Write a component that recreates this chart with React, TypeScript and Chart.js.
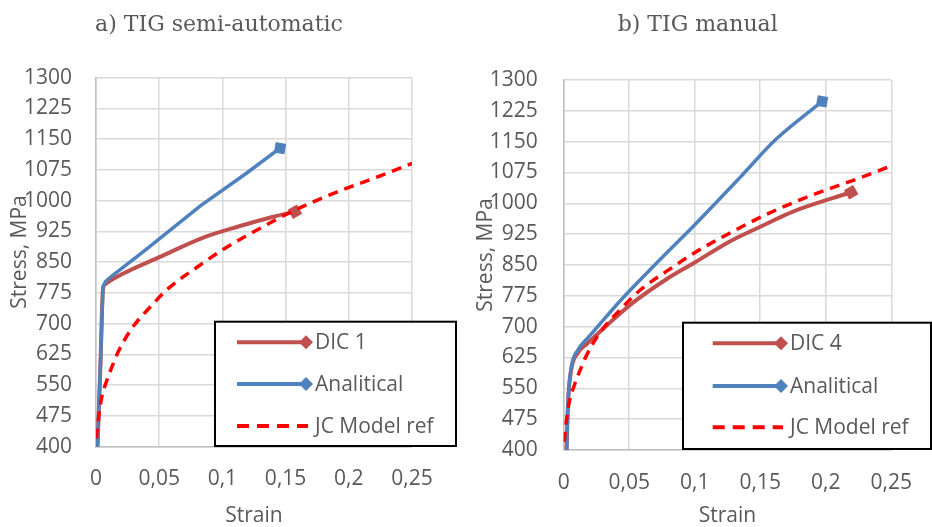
import React, { useEffect, useRef } from 'react';
import { Chart, registerables } from 'chart.js';

Chart.register(...registerables);

// ---------- tick labels ----------
const xTickLabels = ['0', '0,05', '0,1', '0,15', '0,2', '0,25'];
const yTickLabels = ['400', '475', '550', '625', '700', '775', '850', '925', '1000', '1075', '1150', '1225', '1300'];

// ---------- a) TIG semi-automatic ----------
const dic1Strain = [0.0012, 0.0035, 0.0055, 0.0071, 0.02, 0.0506, 0.0849, 0.1126, 0.1403, 0.1574];
const dic1Stress = [400, 600, 783, 796, 820, 863, 910, 937, 961, 973];

const anaAStrain = [0.0012, 0.0035, 0.0055, 0.0075, 0.012, 0.04, 0.0823, 0.119, 0.1456];
const anaAStress = [400, 600, 790, 803, 815, 882, 987, 1067, 1128];

// ---------- b) TIG manual ----------
const dic4Strain = [0.0022, 0.0034, 0.0059, 0.0108, 0.018, 0.0318, 0.0515, 0.0787, 0.1, 0.1254, 0.15, 0.175, 0.2194];
const dic4Stress = [400, 520, 598, 636, 659, 700, 755, 816, 856, 905, 943, 980, 1027];

const anaBStrain = [0.0022, 0.0034, 0.0059, 0.0108, 0.0182, 0.0232, 0.0437, 0.0713, 0.101, 0.1343, 0.1614, 0.1972];
const anaBStress = [400, 522, 603, 643, 672, 690, 765, 856, 951, 1062, 1154, 1248];

// ---------- JC Model ref (both panels) ----------
const jcStrain = [0.0003, 0.002, 0.0045, 0.0084, 0.012, 0.0177, 0.028, 0.0427, 0.058, 0.081, 0.1, 0.13, 0.156, 0.188, 0.2244, 0.25];
const jcStress = [420, 470, 520, 560, 590, 632, 687, 740, 788, 840, 880, 933, 975, 1018, 1060, 1091];

const DIC_COLOR = '#C0504D';
const ANA_COLOR = '#4F81BD';
const JC_COLOR = '#FF0000';
const TEXT_COLOR = '#595959';
const SANS = '"Open Sans", "DejaVu Sans", sans-serif';

const toPoints = (xs: number[], ys: number[]) => xs.map((x, i) => ({ x, y: ys[i] }));
const lastOnly = (n: number, r: number) => Array.from({ length: n }, (_, i) => (i === n - 1 ? r : 0));

const titlePlugin = {
  id: 'fixedTitle',
  afterDraw(chart: any, _args: any, opts: any) {
    const ctx = chart.ctx;
    ctx.save();
    ctx.font = '22px "DejaVu Serif", serif';
    ctx.fillStyle = TEXT_COLOR;
    ctx.textAlign = 'center';
    ctx.textBaseline = 'alphabetic';
    ctx.fillText(opts.text, opts.x, opts.y);
    // rotated y-axis title
    ctx.translate(opts.yTitleX, opts.yTitleY);
    ctx.rotate(-Math.PI / 2);
    ctx.font = '21px ' + SANS;
    ctx.textBaseline = 'middle';
    ctx.fillText(opts.yTitle, 0, 0);
    ctx.restore();
  },
};

const drawDiamond = (ctx: CanvasRenderingContext2D, x: number, y: number, r: number, color: string) => {
  ctx.beginPath();
  ctx.moveTo(x, y - r);
  ctx.lineTo(x + r, y);
  ctx.lineTo(x, y + r);
  ctx.lineTo(x - r, y);
  ctx.closePath();
  ctx.fillStyle = color;
  ctx.fill();
};

const boxLegendPlugin = {
  id: 'boxLegend',
  afterDatasetsDraw(chart: any, _args: any, opts: any) {
    const ctx = chart.ctx as CanvasRenderingContext2D;
    const { box, rows, lineX1, lineX2, textX, order } = opts;
    ctx.save();
    ctx.fillStyle = '#ffffff';
    ctx.fillRect(box.x1, box.y1, box.x2 - box.x1, box.y2 - box.y1);
    ctx.strokeStyle = '#000000';
    ctx.lineWidth = 2;
    ctx.strokeRect(box.x1, box.y1, box.x2 - box.x1, box.y2 - box.y1);
    order.forEach((di: number, i: number) => {
      const ds = chart.data.datasets[di];
      const y = rows[i];
      ctx.strokeStyle = ds.borderColor;
      ctx.lineWidth = 4;
      ctx.setLineDash(ds.legendDash || []);
      ctx.beginPath();
      ctx.moveTo(lineX1, y);
      ctx.lineTo(ds.legendMarker ? lineX2 : lineX2 + 2, y);
      ctx.stroke();
      ctx.setLineDash([]);
      if (ds.legendMarker) drawDiamond(ctx, lineX2, y, 7, ds.borderColor);
      ctx.fillStyle = TEXT_COLOR;
      ctx.font = '21px ' + SANS;
      ctx.textAlign = 'left';
      ctx.textBaseline = 'middle';
      ctx.fillText(ds.label, textX, y + 1);
    });
    ctx.restore();
  },
};

function makeConfig(p: any): any {
  const datasets = [
    {
      label: p.dicLabel,
      data: toPoints(p.dicX, p.dicY),
      borderColor: DIC_COLOR,
      backgroundColor: DIC_COLOR,
      borderWidth: 4,
      pointRadius: lastOnly(p.dicX.length, 7.5),
      pointStyle: 'rectRot',
      pointRotation: 15,
      pointBorderWidth: 0,
      showLine: true,
      cubicInterpolationMode: 'monotone',
      order: 3,
      legendMarker: true,
    },
    {
      label: 'Analitical',
      data: toPoints(p.anaX, p.anaY),
      borderColor: ANA_COLOR,
      backgroundColor: ANA_COLOR,
      borderWidth: 3.5,
      pointRadius: lastOnly(p.anaX.length, 7.5),
      pointStyle: 'rect',
      pointRotation: 10,
      pointBorderWidth: 0,
      showLine: true,
      cubicInterpolationMode: p.smooth ? 'monotone' : 'default',
      order: 2,
      legendMarker: true,
    },
    {
      label: 'JC Model ref',
      data: toPoints(jcStrain, jcStress),
      borderColor: JC_COLOR,
      backgroundColor: JC_COLOR,
      borderWidth: 3.5,
      borderDash: [10, 7],
      pointRadius: 0,
      showLine: true,
      cubicInterpolationMode: 'monotone',
      order: 1,
      legendDash: [12, 8],
    },
  ];
  return {
    type: 'scatter',
    data: { datasets },
    plugins: [titlePlugin, boxLegendPlugin],
    options: {
      responsive: false,
      animation: false,
      events: [],
      layout: { padding: { top: p.top, right: p.right, left: 0, bottom: 0 } },
      plugins: {
        legend: { display: false },
        tooltip: { enabled: false },
        title: { display: false },
        fixedTitle: p.title,
        boxLegend: p.legend,
      },
      scales: {
        x: {
          type: 'linear',
          min: 0,
          max: 0.25,
          afterFit: (s: any) => { s.height = p.xHeight; },
          ticks: {
            stepSize: 0.05,
            color: TEXT_COLOR,
            font: { family: SANS, size: 21 },
            padding: 20,
            maxRotation: 0,
            callback: (_v: any, i: number) => xTickLabels[i],
          },
          grid: { color: '#D9D9D9', lineWidth: 1.5, drawTicks: false },
          border: { color: '#BFBFBF', width: 1.5 },
          title: {
            display: true,
            text: 'Strain',
            color: TEXT_COLOR,
            font: { family: SANS, size: 21, lineHeight: 1 },
            padding: { top: 0, bottom: 0 },
          },
        },
        y: {
          type: 'linear',
          min: 400,
          max: 1300,
          afterFit: (s: any) => { s.width = p.yWidth; },
          ticks: {
            stepSize: 75,
            color: TEXT_COLOR,
            font: { family: SANS, size: 21 },
            padding: p.yPad,
            callback: (_v: any, i: number) => yTickLabels[i],
          },
          grid: { color: '#D9D9D9', lineWidth: 1.5, drawTicks: false },
          border: { color: '#BFBFBF', width: 1.5 },
          title: { display: false },
        },
      },
    },
  };
}

const panelA = {
  dicLabel: 'DIC 1',
  dicX: dic1Strain,
  dicY: dic1Stress,
  anaX: anaAStrain,
  anaY: anaAStress,
  smooth: false,
  top: 77.7,
  right: 54,
  yWidth: 96,
  yPad: 24,
  xHeight: 80.3,
  title: { text: 'a) TIG semi-automatic', x: 219, y: 31, yTitle: 'Stress, MPa', yTitleX: 20, yTitleY: 252 },
  legend: {
    box: { x1: 215, y1: 321.7, x2: 456, y2: 446 },
    rows: [342.3, 384, 426],
    lineX1: 237,
    lineX2: 306,
    textX: 315,
    order: [0, 1, 2],
  },
};

const panelB = {
  dicLabel: 'DIC 4',
  dicX: dic4Strain,
  dicY: dic4Stress,
  anaX: anaBStrain,
  anaY: anaBStress,
  smooth: true,
  top: 80,
  right: 30.7,
  yWidth: 97.7,
  yPad: 26,
  xHeight: 77,
  title: { text: 'b) TIG manual', x: 231.7, y: 31, yTitle: 'Stress, MPa', yTitleX: 20, yTitleY: 255 },
  legend: {
    box: { x1: 217, y1: 322.7, x2: 465, y2: 449 },
    rows: [343.3, 386, 427.3],
    lineX1: 246.7,
    lineX2: 315,
    textX: 324,
    order: [0, 1, 2],
  },
};

function Panel({ cfg }: { cfg: any }) {
  const ref = useRef<HTMLCanvasElement>(null);
  useEffect(() => {
    if (!ref.current) return;
    const chart = new Chart(ref.current, makeConfig(cfg));
    return () => chart.destroy();
  }, [cfg]);
  return <canvas ref={ref} width={466} height={527} style={{ display: 'block', width: 466, height: 527 }} />;
}

export default function App() {
  return (
    <div style={{ position: 'fixed', left: 0, top: 0, width: 932, height: 527, display: 'flex', background: '#ffffff' }}>
      <Panel cfg={panelA} />
      <Panel cfg={panelB} />
    </div>
  );
}
